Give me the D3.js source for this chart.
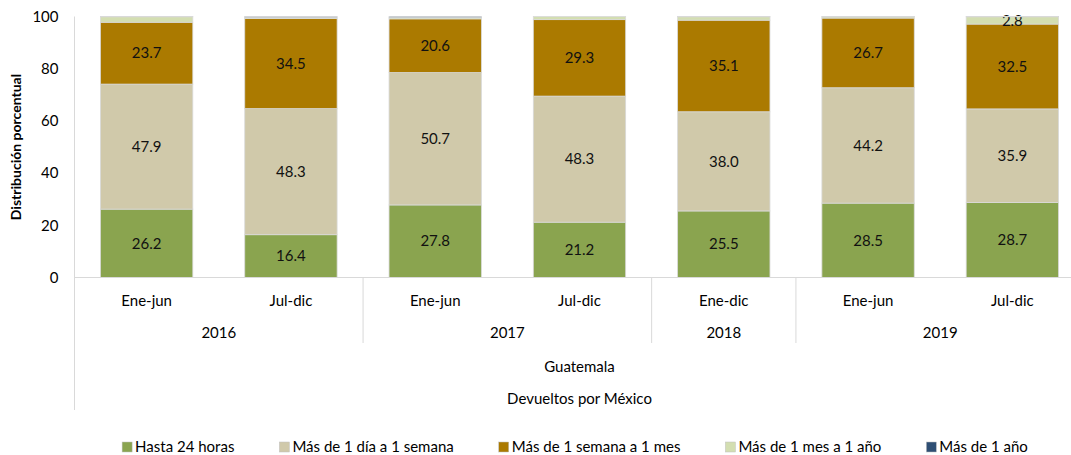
<!DOCTYPE html>
<html>
<head>
<meta charset="utf-8">
<script src="https://cdn.jsdelivr.net/npm/d3@7"></script>
<style>
  body { margin: 0; background: #fff; }
  text { font-family: Lato, "Noto Sans", sans-serif; fill: #000; }
</style>
</head>
<body>
<script>
var width = 1071;
var height = 455;

// categories
var periods = ['Ene-jun', 'Jul-dic', 'Ene-jun', 'Jul-dic', 'Ene-dic', 'Ene-jun', 'Jul-dic'];
var years = ['2016', '2016', '2017', '2017', '2018', '2019', '2019'];
var country = 'Guatemala';
var group = 'Devueltos por México';

// series (percent)
var seriesNames = ['Hasta 24 horas', 'Más de 1 día a 1 semana', 'Más de 1 semana a 1 mes', 'Más de 1 mes a 1 año', 'Más de 1 año'];
var hasta24 = [26.2, 16.4, 27.8, 21.2, 25.5, 28.5, 28.7];
var diaSemana = [47.9, 48.3, 50.7, 48.3, 38.0, 44.2, 35.9];
var semanaMes = [23.7, 34.5, 20.6, 29.3, 35.1, 26.7, 32.5];
var mesAnio = [2.1, 0.5, 0.5, 1.2, 1.3, 0.5, 2.8];
var masAnio = [0.1, 0.3, 0.4, 0.0, 0.1, 0.1, 0.1];
var colors = ['#8aa44f', '#d0c9aa', '#ab7a00', '#d3deb1', '#2f4f74'];

var yTicks = [0, 20, 40, 60, 80, 100];

var svg = d3.select('body')
    .append('svg')
    .attr('width', width)
    .attr('height', height);

var plotLeft = 74.5, plotRight = 1084.5, plotTop = 16.5, plotBottom = 277.5;

var x = d3.scaleBand()
    .domain(d3.range(periods.length))
    .range([plotLeft, plotRight])
    .paddingInner(0.36)
    .paddingOuter(0.18);

var y = d3.scaleLinear()
    .domain([0, 100])
    .range([plotBottom, plotTop]);

var rows = periods.map(function(p, i) {
    return {
        i: i,
        s0: hasta24[i], s1: diaSemana[i], s2: semanaMes[i], s3: mesAnio[i], s4: masAnio[i]
    };
});

var stack = d3.stack().keys(['s0', 's1', 's2', 's3', 's4']);
var stacked = stack(rows);

var layers = svg.append('g').selectAll('g')
    .data(stacked)
    .enter()
    .append('g')
    .attr('fill', (d, k) => colors[k]);

layers.selectAll('rect')
    .data(d => d)
    .enter()
    .append('rect')
    .attr('x', d => x(d.data.i))
    .attr('width', x.bandwidth())
    .attr('y', d => y(d[1]))
    .attr('height', d => y(d[0]) - y(d[1]))
    .attr('stroke', '#d9d9d9')
    .attr('stroke-width', 0.8);

// data labels
layers.selectAll('text')
    .data(d => d.filter(v => v[1] - v[0] >= 2.5))
    .enter()
    .append('text')
    .attr('x', d => x(d.data.i) + x.bandwidth() / 2)
    .attr('y', d => (y(d[0]) + y(d[1])) / 2)
    .attr('dy', '0.35em')
    .attr('text-anchor', 'middle')
    .style('font-size', '15px')
    .style('fill', '#111')
    .text(d => d3.format('.1f')(d[1] - d[0]));

// y axis labels
var yAxis = svg.append('g')
    .attr('transform', 'translate(' + plotLeft + ',0)')
    .call(d3.axisLeft(y).tickValues(yTicks).tickSize(0).tickPadding(16));
yAxis.select('.domain').remove();
yAxis.selectAll('text')
    .style('font-family', 'Lato, "Noto Sans", sans-serif')
    .style('font-size', '15px')
    .attr('fill', '#000');

svg.append('text')
    .attr('transform', 'translate(21,' + ((plotTop + plotBottom) / 2) + ') rotate(-90)')
    .attr('text-anchor', 'middle')
    .style('font-size', '14px')
    .style('font-weight', 'bold')
    .text('Distribución porcentual');

// axis lines
var lineColor = '#d9d9d9';
svg.append('line')
    .attr('x1', plotLeft).attr('x2', plotLeft)
    .attr('y1', plotTop).attr('y2', 410)
    .attr('stroke', lineColor);
svg.append('line')
    .attr('x1', plotLeft).attr('x2', plotRight)
    .attr('y1', plotBottom).attr('y2', plotBottom)
    .attr('stroke', lineColor);

// period labels
var step = x.step();
svg.append('g').selectAll('text')
    .data(periods)
    .enter()
    .append('text')
    .attr('x', (d, i) => x(i) + x.bandwidth() / 2)
    .attr('y', 306)
    .attr('text-anchor', 'middle')
    .style('font-size', '15px')
    .text(d => d);

// year groups
var yearGroups = [];
years.forEach(function(yr, i) {
    var last = yearGroups[yearGroups.length - 1];
    if (last && last.year === yr) last.end = i;
    else yearGroups.push({year: yr, start: i, end: i});
});

var catStart = i => x(i) - x.paddingOuter() * step;

svg.append('g').selectAll('line')
    .data(yearGroups.slice(1))
    .enter()
    .append('line')
    .attr('x1', d => catStart(d.start))
    .attr('x2', d => catStart(d.start))
    .attr('y1', plotBottom)
    .attr('y2', 343)
    .attr('stroke', lineColor);

svg.append('g').selectAll('text')
    .data(yearGroups)
    .enter()
    .append('text')
    .attr('x', d => (catStart(d.start) + catStart(d.end) + step) / 2)
    .attr('y', 338)
    .attr('text-anchor', 'middle')
    .style('font-size', '15px')
    .text(d => d.year);

svg.append('text')
    .attr('x', (plotLeft + plotRight) / 2)
    .attr('y', 372)
    .attr('text-anchor', 'middle')
    .style('font-size', '15px')
    .text(country);

svg.append('text')
    .attr('x', (plotLeft + plotRight) / 2)
    .attr('y', 404)
    .attr('text-anchor', 'middle')
    .style('font-size', '15px')
    .text(group);

// legend
var legend = svg.append('g');
var items = legend.selectAll('g')
    .data(seriesNames)
    .enter()
    .append('g');
items.append('rect')
    .attr('width', 10)
    .attr('height', 10)
    .attr('y', -10)
    .attr('fill', (d, k) => colors[k])
    .attr('stroke', '#bfbfbf')
    .attr('stroke-width', 0.5);
items.append('text')
    .attr('x', 13)
    .style('font-size', '15px')
    .text(d => d);

var pos = 0;
var offsets = [];
var gap = 45;
items.each(function() {
    offsets.push(pos);
    pos += 13 + this.querySelector('text').getComputedTextLength() + gap;
});
var total = pos - gap;
var startX = 575 - total / 2;
items.attr('transform', (d, k) => 'translate(' + (startX + offsets[k]) + ',452)');
</script>
</body>
</html>
